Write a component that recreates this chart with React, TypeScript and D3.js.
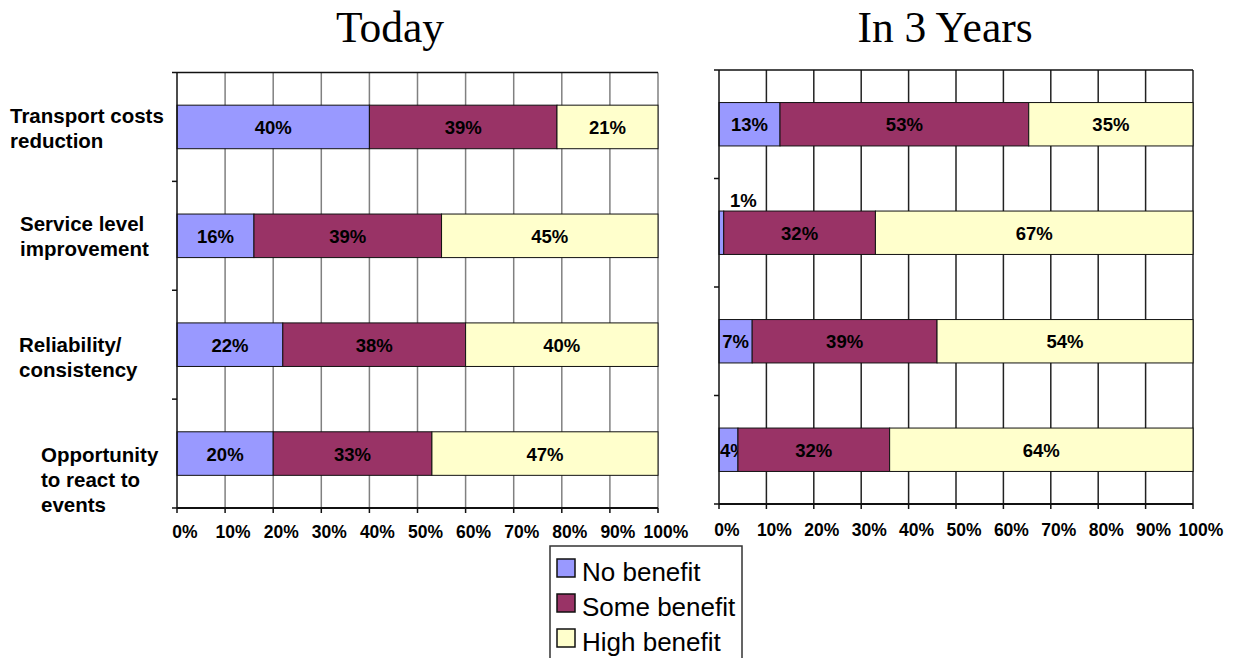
import * as d3 from 'd3';

const CATEGORIES = [
  'Transport costs reduction',
  'Service level improvement',
  'Reliability/ consistency',
  'Opportunity to react to events',
];
const CATEGORY_LINES = [
  ['Transport costs', 'reduction'],
  ['Service level', 'improvement'],
  ['Reliability/', 'consistency'],
  ['Opportunity', 'to react to', 'events'],
];
const SERIES = ['No benefit', 'Some benefit', 'High benefit'];
const COLORS = ['#9999FF', '#993366', '#FFFFCC'];

const TODAY_NO = [40, 16, 22, 20];
const TODAY_SOME = [39, 39, 38, 33];
const TODAY_HIGH = [21, 45, 40, 47];

const FUTURE_NO = [13, 1, 7, 4];
const FUTURE_SOME = [53, 32, 39, 32];
const FUTURE_HIGH = [35, 67, 54, 64];

const X_TICKS = [0, 0.1, 0.2, 0.3, 0.4, 0.5, 0.6, 0.7, 0.8, 0.9, 1];

// label layout quirks copied from the original (Excel) rendering
const LABEL_X = [10, 20, 19, 41];
const LABEL_DY = [2, 1, 13, 26];

const W = 1244;
const H = 658;
const BOLD = 'Liberation Sans, Arial, sans-serif';

type Row = { name: string; [k: string]: number | string };

const buildRows = (no: number[], some: number[], high: number[]): Row[] =>
  CATEGORIES.map((name, i) => ({
    name,
    [SERIES[0]]: no[i],
    [SERIES[1]]: some[i],
    [SERIES[2]]: high[i],
  }));

type PanelProps = {
  title: string;
  titleX: number;
  rows: Row[];
  x0: number;
  x1: number;
  y0: number;
  y1: number;
  gridColor: string;
  tickLabelY: number;
  showCategories?: boolean;
};

const Panel = ({
  title,
  titleX,
  rows,
  x0,
  x1,
  y0,
  y1,
  gridColor,
  tickLabelY,
  showCategories,
}: PanelProps) => {
  const xScale = d3.scaleLinear().domain([0, 1]).range([x0, x1]);
  const yScale = d3
    .scaleBand()
    .domain(CATEGORIES)
    .range([y0, y1])
    .paddingInner(0.6)
    .paddingOuter(0.3);
  const step = yScale.step();

  const stack = d3
    .stack<Row>()
    .keys(SERIES)
    .value((d, k) => d[k] as number)
    .offset(d3.stackOffsetExpand);
  const layers = stack(rows);

  return (
    <g>
      <text
        x={titleX}
        y={42}
        textAnchor="middle"
        fontFamily="Liberation Serif, Times New Roman, serif"
        fontSize={43.5}
      >
        {title}
      </text>

      {/* vertical grid */}
      {X_TICKS.slice(1).map((t) => (
        <line
          key={t}
          x1={xScale(t)}
          x2={xScale(t)}
          y1={y0}
          y2={y1}
          stroke={gridColor}
          strokeWidth={1.5}
        />
      ))}
      <line x1={x0} x2={x1} y1={y0} y2={y0} stroke="#111" strokeWidth={1.5} />

      {/* bars */}
      {layers.map((layer, si) =>
        layer.map((seg, ci) => {
          const name = CATEGORIES[ci];
          const y = yScale(name) as number;
          const xa = xScale(seg[0]);
          const xb = xScale(seg[1]);
          const value = rows[ci][SERIES[si]] as number;
          const label = `${value}%`;
          const segW = xb - xa;
          const labelW = label.length * 10;
          let lx = (xa + xb) / 2;
          let ly = y + yScale.bandwidth() / 2 + 7;
          let anchor: 'middle' | 'start' = 'middle';
          if (segW < 10) {
            lx = xa + 11;
            ly = y - 4;
            anchor = 'start';
          } else if (segW < labelW + 4) {
            lx = xa + 1;
            anchor = 'start';
          }
          return (
            <g key={`${si}-${ci}`}>
              <rect
                x={xa}
                y={y}
                width={segW}
                height={yScale.bandwidth()}
                fill={COLORS[si]}
                stroke="#111"
                strokeWidth={1}
              />
              <text
                x={lx}
                y={ly}
                textAnchor={anchor}
                fontFamily={BOLD}
                fontWeight="bold"
                fontSize={18.5}
                fill="#000"
              >
                {label}
              </text>
            </g>
          );
        }),
      )}

      {/* axes */}
      <line x1={x0} x2={x0} y1={y0} y2={y1} stroke="#111" strokeWidth={1.5} />
      <line x1={x0} x2={x1} y1={y1} y2={y1} stroke="#111" strokeWidth={2} />
      {d3.range(CATEGORIES.length + 1).map((i) => (
        <line
          key={i}
          x1={x0 - 5}
          x2={x0}
          y1={y0 + i * step}
          y2={y0 + i * step}
          stroke="#111"
          strokeWidth={1.5}
        />
      ))}
      {X_TICKS.map((t) => (
        <g key={t}>
          <line
            x1={xScale(t)}
            x2={xScale(t)}
            y1={y1}
            y2={y1 + 5}
            stroke="#111"
            strokeWidth={1.5}
          />
          <text
            x={xScale(t) + 8}
            y={tickLabelY}
            textAnchor="middle"
            fontFamily={BOLD}
            fontWeight="bold"
            fontSize={17.5}
          >
            {`${Math.round(t * 100)}%`}
          </text>
        </g>
      ))}

      {showCategories &&
        CATEGORIES.map((name, i) => {
          const lines = CATEGORY_LINES[i];
          const cy = (yScale(name) as number) + yScale.bandwidth() / 2;
          const first = cy - ((lines.length - 1) * 25) / 2 + 7 + LABEL_DY[i];
          return (
            <text
              key={name}
              fontFamily={BOLD}
              fontWeight="bold"
              fontSize={20.5}
              fill="#000"
            >
              {lines.map((l, j) => (
                <tspan key={j} x={LABEL_X[i]} y={first + j * 25}>
                  {l}
                </tspan>
              ))}
            </text>
          );
        })}
    </g>
  );
};

const Legend = () => (
  <g>
    <rect
      x={550}
      y={546}
      width={192}
      height={140}
      fill="#fff"
      stroke="#333"
      strokeWidth={1.5}
    />
    {SERIES.map((s, i) => (
      <g key={s} transform={`translate(557, ${559 + i * 35})`}>
        <rect width={18} height={18} fill={COLORS[i]} stroke="#111" strokeWidth={1.5} />
        <text
          x={25}
          y={22}
          fontFamily="Liberation Sans, Arial, sans-serif"
          fontSize={26}
          fill="#000"
        >
          {s}
        </text>
      </g>
    ))}
  </g>
);

export default function App() {
  const todayRows = buildRows(TODAY_NO, TODAY_SOME, TODAY_HIGH);
  const futureRows = buildRows(FUTURE_NO, FUTURE_SOME, FUTURE_HIGH);
  return (
    <svg
      width={W}
      height={H}
      style={{ position: 'absolute', left: 0, top: 0, background: '#fff' }}
    >
      <Panel
        title="Today"
        titleX={390}
        rows={todayRows}
        x0={177}
        x1={658}
        y0={72.5}
        y1={508}
        gridColor="#808080"
        tickLabelY={538}
        showCategories
      />
      <Panel
        title="In 3 Years"
        titleX={945}
        rows={futureRows}
        x0={719}
        x1={1193}
        y0={70}
        y1={504}
        gridColor="#222"
        tickLabelY={536}
      />
      <Legend />
    </svg>
  );
}
